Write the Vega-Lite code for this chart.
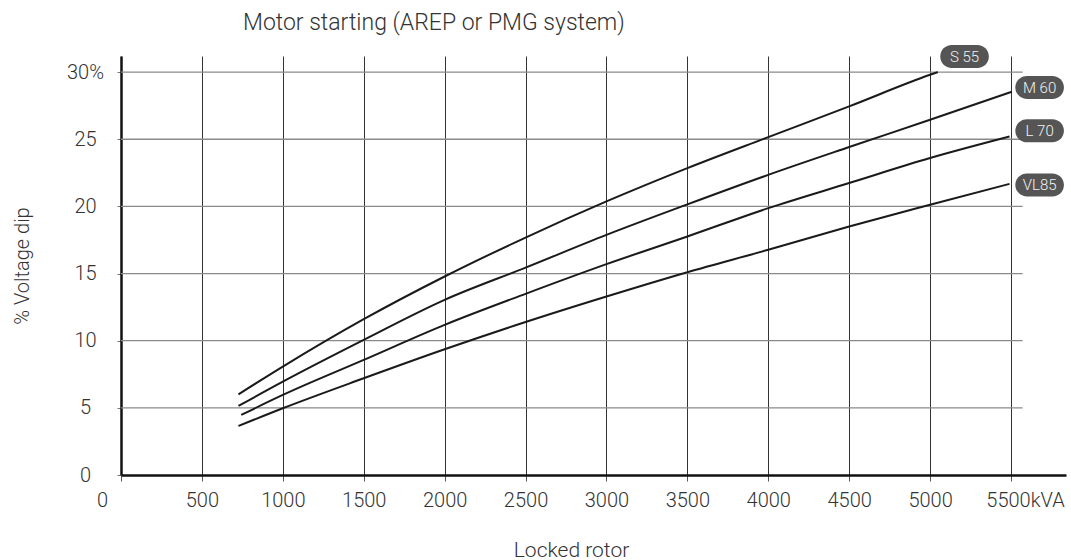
{
  "$schema": "https://vega.github.io/schema/vega-lite/v6.json",
  "width": 945,
  "height": 419,
  "autosize": "none",
  "padding": {"left": 121, "top": 56, "right": 5, "bottom": 85},
  "background": "white",
  "config": {
    "view": {"stroke": null},
    "font": "Roboto",
    "axis": {"labelFont": "Roboto", "labelFontWeight": 300, "labelColor": "#333", "titleFont": "Roboto", "titleFontWeight": 300, "titleColor": "#333"}
  },
  "title": {
    "text": "Motor starting (AREP or PMG system)",
    "anchor": "start",
    "frame": "group",
    "dx": 122,
    "fontSize": 23,
    "fontWeight": 300,
    "font": "Roboto",
    "color": "#333",
    "offset": 10
  },
  "datasets": {
    "curves": [
      {"series": "S 55", "kva": 726, "dip": 6.01},
      {"series": "S 55", "kva": 1000, "dip": 8.07},
      {"series": "S 55", "kva": 1500, "dip": 11.6},
      {"series": "S 55", "kva": 2000, "dip": 14.78},
      {"series": "S 55", "kva": 2500, "dip": 17.68},
      {"series": "S 55", "kva": 3000, "dip": 20.37},
      {"series": "S 55", "kva": 3500, "dip": 22.85},
      {"series": "S 55", "kva": 4000, "dip": 25.16},
      {"series": "S 55", "kva": 4500, "dip": 27.45},
      {"series": "S 55", "kva": 5000, "dip": 29.8},
      {"series": "S 55", "kva": 5048, "dip": 30.0},
      {"series": "M 60", "kva": 726, "dip": 5.14},
      {"series": "M 60", "kva": 1000, "dip": 6.95},
      {"series": "M 60", "kva": 1500, "dip": 10.06},
      {"series": "M 60", "kva": 2000, "dip": 13.04},
      {"series": "M 60", "kva": 2500, "dip": 15.44},
      {"series": "M 60", "kva": 3000, "dip": 17.88},
      {"series": "M 60", "kva": 3500, "dip": 20.15},
      {"series": "M 60", "kva": 4000, "dip": 22.35},
      {"series": "M 60", "kva": 4500, "dip": 24.42},
      {"series": "M 60", "kva": 5000, "dip": 26.45},
      {"series": "M 60", "kva": 5505, "dip": 28.54},
      {"series": "L 70", "kva": 743, "dip": 4.47},
      {"series": "L 70", "kva": 1000, "dip": 5.96},
      {"series": "L 70", "kva": 1500, "dip": 8.57},
      {"series": "L 70", "kva": 2000, "dip": 11.18},
      {"series": "L 70", "kva": 2500, "dip": 13.49},
      {"series": "L 70", "kva": 3000, "dip": 15.7},
      {"series": "L 70", "kva": 3500, "dip": 17.76},
      {"series": "L 70", "kva": 4000, "dip": 19.87},
      {"series": "L 70", "kva": 4500, "dip": 21.74},
      {"series": "L 70", "kva": 5000, "dip": 23.6},
      {"series": "L 70", "kva": 5491, "dip": 25.2},
      {"series": "VL85", "kva": 726, "dip": 3.65},
      {"series": "VL85", "kva": 1000, "dip": 4.97},
      {"series": "VL85", "kva": 1500, "dip": 7.2},
      {"series": "VL85", "kva": 2000, "dip": 9.36},
      {"series": "VL85", "kva": 2500, "dip": 11.39},
      {"series": "VL85", "kva": 3000, "dip": 13.29},
      {"series": "VL85", "kva": 3500, "dip": 15.1},
      {"series": "VL85", "kva": 4000, "dip": 16.77},
      {"series": "VL85", "kva": 4500, "dip": 18.5},
      {"series": "VL85", "kva": 5000, "dip": 20.12},
      {"series": "VL85", "kva": 5491, "dip": 21.68}
    ],
    "badges": [
      {"series": "S 55", "kva": 5213, "dip": 31.17},
      {"series": "M 60", "kva": 5677, "dip": 28.86},
      {"series": "L 70", "kva": 5677, "dip": 25.63},
      {"series": "VL85", "kva": 5677, "dip": 21.6}
    ],
    "hgrid": [
      {"level": 5}, {"level": 10}, {"level": 15}, {"level": 20}, {"level": 25}, {"level": 30}
    ]
  },
  "layer": [
    {
      "data": {"name": "hgrid"},
      "mark": {"type": "rule", "color": "#8a8a8a", "strokeWidth": 1.3},
      "encoding": {
        "y": {"field": "level", "type": "quantitative", "scale": {"domain": [0, 31.2], "nice": false, "zero": false},
          "axis": {
            "title": "% Voltage dip",
            "values": [0, 5, 10, 15, 20, 25, 30],
            "format": "d",
            "labelExpr": "datum.value == 30 ? '30%' : datum.label",
            "labelFontSize": 20,
            "labelAlign": "center",
            "labelPadding": 32,
            "tickSize": 4,
            "tickColor": "#777",
            "domainColor": "#111",
            "domainWidth": 2.5,
            "grid": false,
            "titleFontSize": 20,
            "titleX": -99,
            "titleY": 209.5,
            "titleAlign": "center",
            "titleBaseline": "middle",
            "titleAngle": -90
          }
        },
        "x": {"datum": 0, "type": "quantitative", "scale": {"domain": [0, 5840], "nice": false, "zero": false},
          "axis": {
            "title": "Locked rotor",
            "values": [0, 500, 1000, 1500, 2000, 2500, 3000, 3500, 4000, 4500, 5000, 5500],
            "format": "d",
            "labelExpr": "datum.value == 5500 ? '5500kVA' : datum.label",
            "labelOffset": {"condition": [{"test": "datum.value == 0", "value": -19}, {"test": "datum.value == 5500", "value": 14}], "value": 0},
            "labelFontSize": 20,
            "labelPadding": 9,
            "labelOverlap": false,
            "labelFlush": false,
            "tickSize": 6,
            "tickColor": "#555",
            "domainColor": "#111",
            "domainWidth": 2.5,
            "grid": true,
            "gridColor": "#333",
            "gridWidth": 1,
            "titleFontSize": 21,
            "titleX": 450,
            "titleY": 81,
            "titleAlign": "center",
            "titleBaseline": "alphabetic"
          }
        },
        "x2": {"datum": 5572}
      }
    },
    {
      "data": {"name": "curves"},
      "mark": {"type": "line", "color": "#1a1a1a", "strokeWidth": 2, "interpolate": "monotone"},
      "encoding": {
        "x": {"field": "kva", "type": "quantitative"},
        "y": {"field": "dip", "type": "quantitative"},
        "detail": {"field": "series"}
      }
    },
    {
      "data": {"name": "badges"},
      "mark": {"type": "point", "filled": true, "color": "#555555", "opacity": 1, "size": 529,
        "shape": "M-1.113,-1L1.113,-1A1,1,0,0,1,1.113,1L-1.113,1A1,1,0,0,1,-1.113,-1Z"},
      "encoding": {
        "x": {"field": "kva", "type": "quantitative"},
        "y": {"field": "dip", "type": "quantitative"}
      }
    },
    {
      "data": {"name": "badges"},
      "mark": {"type": "text", "color": "#f2f2f2", "fontSize": 15, "font": "Roboto", "fontWeight": 300, "align": "center", "baseline": "middle", "dy": 0.5},
      "encoding": {
        "x": {"field": "kva", "type": "quantitative"},
        "y": {"field": "dip", "type": "quantitative"},
        "text": {"field": "series"}
      }
    }
  ]
}
